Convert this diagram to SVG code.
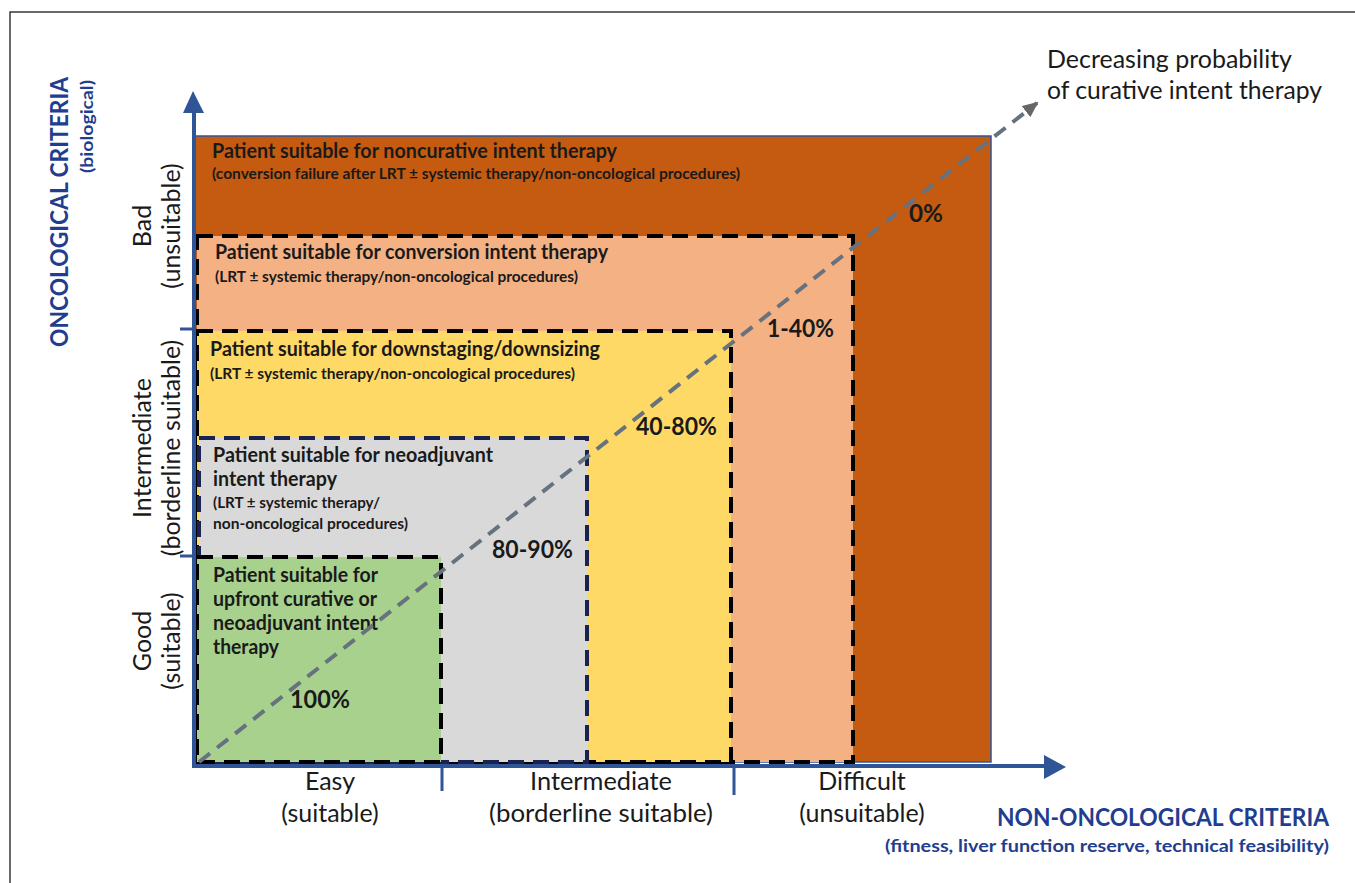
<svg xmlns="http://www.w3.org/2000/svg" width="1355" height="883" viewBox="0 0 1355 883">
<defs>
<style>
.t{font-family:Lato,"Liberation Sans",sans-serif;fill:#1a1a1a}
.bt{font-weight:bold;font-size:20px}
.bs{font-weight:bold;font-size:14.5px}
.pc{font-weight:bold;font-size:25px}
.lb{font-size:25px}
.blue{fill:#1F3E8F;font-weight:bold}
.dash{stroke:#000;stroke-width:4;stroke-dasharray:16 9}
.axis{stroke:#2F5597;stroke-width:4;fill:none}
</style>
<marker id="arr" markerUnits="userSpaceOnUse" markerWidth="16" markerHeight="14" refX="14" refY="7" orient="auto">
<path d="M0,0 L16,7 L0,14 Z" fill="#666"/>
</marker>
</defs>
<rect width="1355" height="883" fill="#fff"/>
<path d="M10,883 V12 H1355" fill="none" stroke="#3a3a3a" stroke-width="1.5"/>

<g id="box-noncurative">
<rect x="195" y="136" width="796" height="626" fill="#C55A11" stroke="#2F5597" stroke-width="1.5"/>
<text class="t bt" x="212" y="158" textLength="405" lengthAdjust="spacingAndGlyphs">Patient suitable for noncurative intent therapy</text>
<text class="t bs" x="212" y="179" textLength="528" lengthAdjust="spacingAndGlyphs">(conversion failure after LRT ± systemic therapy/non-oncological procedures)</text>
<text class="t pc" x="909" y="222" textLength="34" lengthAdjust="spacingAndGlyphs">0%</text>
</g>
<g id="box-conversion">
<rect x="197" y="236" width="656" height="526" fill="#F4B183" class="dash"/>
<text class="t bt" x="215" y="259" textLength="393" lengthAdjust="spacingAndGlyphs">Patient suitable for conversion intent therapy</text>
<text class="t bs" x="215" y="282" textLength="363" lengthAdjust="spacingAndGlyphs">(LRT ± systemic therapy/non-oncological procedures)</text>
<text class="t pc" x="767" y="337" textLength="67" lengthAdjust="spacingAndGlyphs">1-40%</text>
</g>
<g id="box-downstaging">
<rect x="197" y="331" width="534" height="431" fill="#FFD966" class="dash"/>
<text class="t bt" x="210" y="356" textLength="390" lengthAdjust="spacingAndGlyphs">Patient suitable for downstaging/downsizing</text>
<text class="t bs" x="210" y="379" textLength="365" lengthAdjust="spacingAndGlyphs">(LRT ± systemic therapy/non-oncological procedures)</text>
<text class="t pc" x="636" y="435" textLength="81" lengthAdjust="spacingAndGlyphs">40-80%</text>
</g>
<g id="box-neoadjuvant">
<rect x="199" y="438" width="388" height="324" fill="#D9D9D9" class="dash" style="stroke:#1a2350"/>
<text class="t bt" x="213" y="462" textLength="280" lengthAdjust="spacingAndGlyphs">Patient suitable for neoadjuvant</text>
<text class="t bt" x="213" y="486" textLength="124" lengthAdjust="spacingAndGlyphs">intent therapy</text>
<text class="t bs" x="213" y="508" textLength="167" lengthAdjust="spacingAndGlyphs">(LRT ± systemic therapy/</text>
<text class="t bs" x="213" y="529" textLength="195" lengthAdjust="spacingAndGlyphs">non-oncological procedures)</text>
<text class="t pc" x="492" y="558" textLength="81" lengthAdjust="spacingAndGlyphs">80-90%</text>
</g>
<g id="box-upfront">
<rect x="197" y="557" width="244" height="205" fill="#A9D18E" class="dash"/>
<text class="t bt" x="213" y="582" textLength="165" lengthAdjust="spacingAndGlyphs">Patient suitable for</text>
<text class="t bt" x="213" y="606" textLength="164" lengthAdjust="spacingAndGlyphs">upfront curative or</text>
<text class="t bt" x="213" y="630" textLength="165" lengthAdjust="spacingAndGlyphs">neoadjuvant intent</text>
<text class="t bt" x="213" y="654" textLength="66" lengthAdjust="spacingAndGlyphs">therapy</text>
<text class="t pc" x="290" y="708" textLength="60" lengthAdjust="spacingAndGlyphs">100%</text>
</g>

<g id="axes">
<line class="axis" x1="194" y1="768" x2="194" y2="110"/>
<polygon points="193,91 204,113 183,113" fill="#2F5597"/>
<line class="axis" x1="192" y1="766" x2="1047" y2="766"/>
<polygon points="1066,767 1044,755 1044,779" fill="#2F5597"/>
<line x1="442" y1="766" x2="442" y2="791" stroke="#2F5597" stroke-width="3"/>
<line x1="734" y1="766" x2="734" y2="795" stroke="#2F5597" stroke-width="3"/>
<line x1="180" y1="329" x2="194" y2="329" stroke="#2F5597" stroke-width="3"/>
<line x1="180" y1="556" x2="194" y2="556" stroke="#2F5597" stroke-width="3"/>
</g>

<g id="connectors">
<line x1="199" y1="762" x2="1037" y2="103" stroke="#66727E" stroke-width="4" stroke-dasharray="14 9" marker-end="url(#arr)"/>
</g>

<g id="y-labels">
<text class="t blue" font-size="24" text-anchor="end" textLength="270" lengthAdjust="spacingAndGlyphs" transform="translate(68,77) rotate(-90)">ONCOLOGICAL CRITERIA</text>
<text class="t blue" font-size="16.5" text-anchor="end" textLength="93" lengthAdjust="spacingAndGlyphs" transform="translate(93,80) rotate(-90)">(biological)</text>
<text class="t lb" text-anchor="middle" transform="translate(151,226) rotate(-90)">Bad</text>
<text class="t lb" text-anchor="middle" transform="translate(180,226) rotate(-90)">(unsuitable)</text>
<text class="t lb" text-anchor="middle" transform="translate(151,448) rotate(-90)">Intermediate</text>
<text class="t lb" text-anchor="middle" transform="translate(180,448) rotate(-90)">(borderline suitable)</text>
<text class="t lb" text-anchor="middle" transform="translate(151,641) rotate(-90)">Good</text>
<text class="t lb" text-anchor="middle" transform="translate(180,641) rotate(-90)">(suitable)</text>
</g>

<g id="x-labels">
<text class="t lb" text-anchor="middle" x="330" y="790">Easy</text>
<text class="t lb" text-anchor="middle" x="330" y="822">(suitable)</text>
<text class="t lb" text-anchor="middle" x="601" y="790" textLength="142" lengthAdjust="spacingAndGlyphs">Intermediate</text>
<text class="t lb" text-anchor="middle" x="601" y="822" textLength="224" lengthAdjust="spacingAndGlyphs">(borderline suitable)</text>
<text class="t lb" text-anchor="middle" x="862" y="790">Difficult</text>
<text class="t lb" text-anchor="middle" x="862" y="822">(unsuitable)</text>
<text class="t blue" font-size="24" text-anchor="end" x="1329" y="826" textLength="332" lengthAdjust="spacingAndGlyphs">NON-ONCOLOGICAL CRITERIA</text>
<text class="t blue" font-size="16.5" text-anchor="end" x="1329" y="852" textLength="444" lengthAdjust="spacingAndGlyphs">(fitness, liver function reserve, technical feasibility)</text>
</g>

<g id="title">
<text class="t" font-size="25" x="1047" y="68" textLength="245" lengthAdjust="spacingAndGlyphs">Decreasing probability</text>
<text class="t" font-size="25" x="1047" y="99" textLength="275" lengthAdjust="spacingAndGlyphs">of curative intent therapy</text>
</g>
</svg>
